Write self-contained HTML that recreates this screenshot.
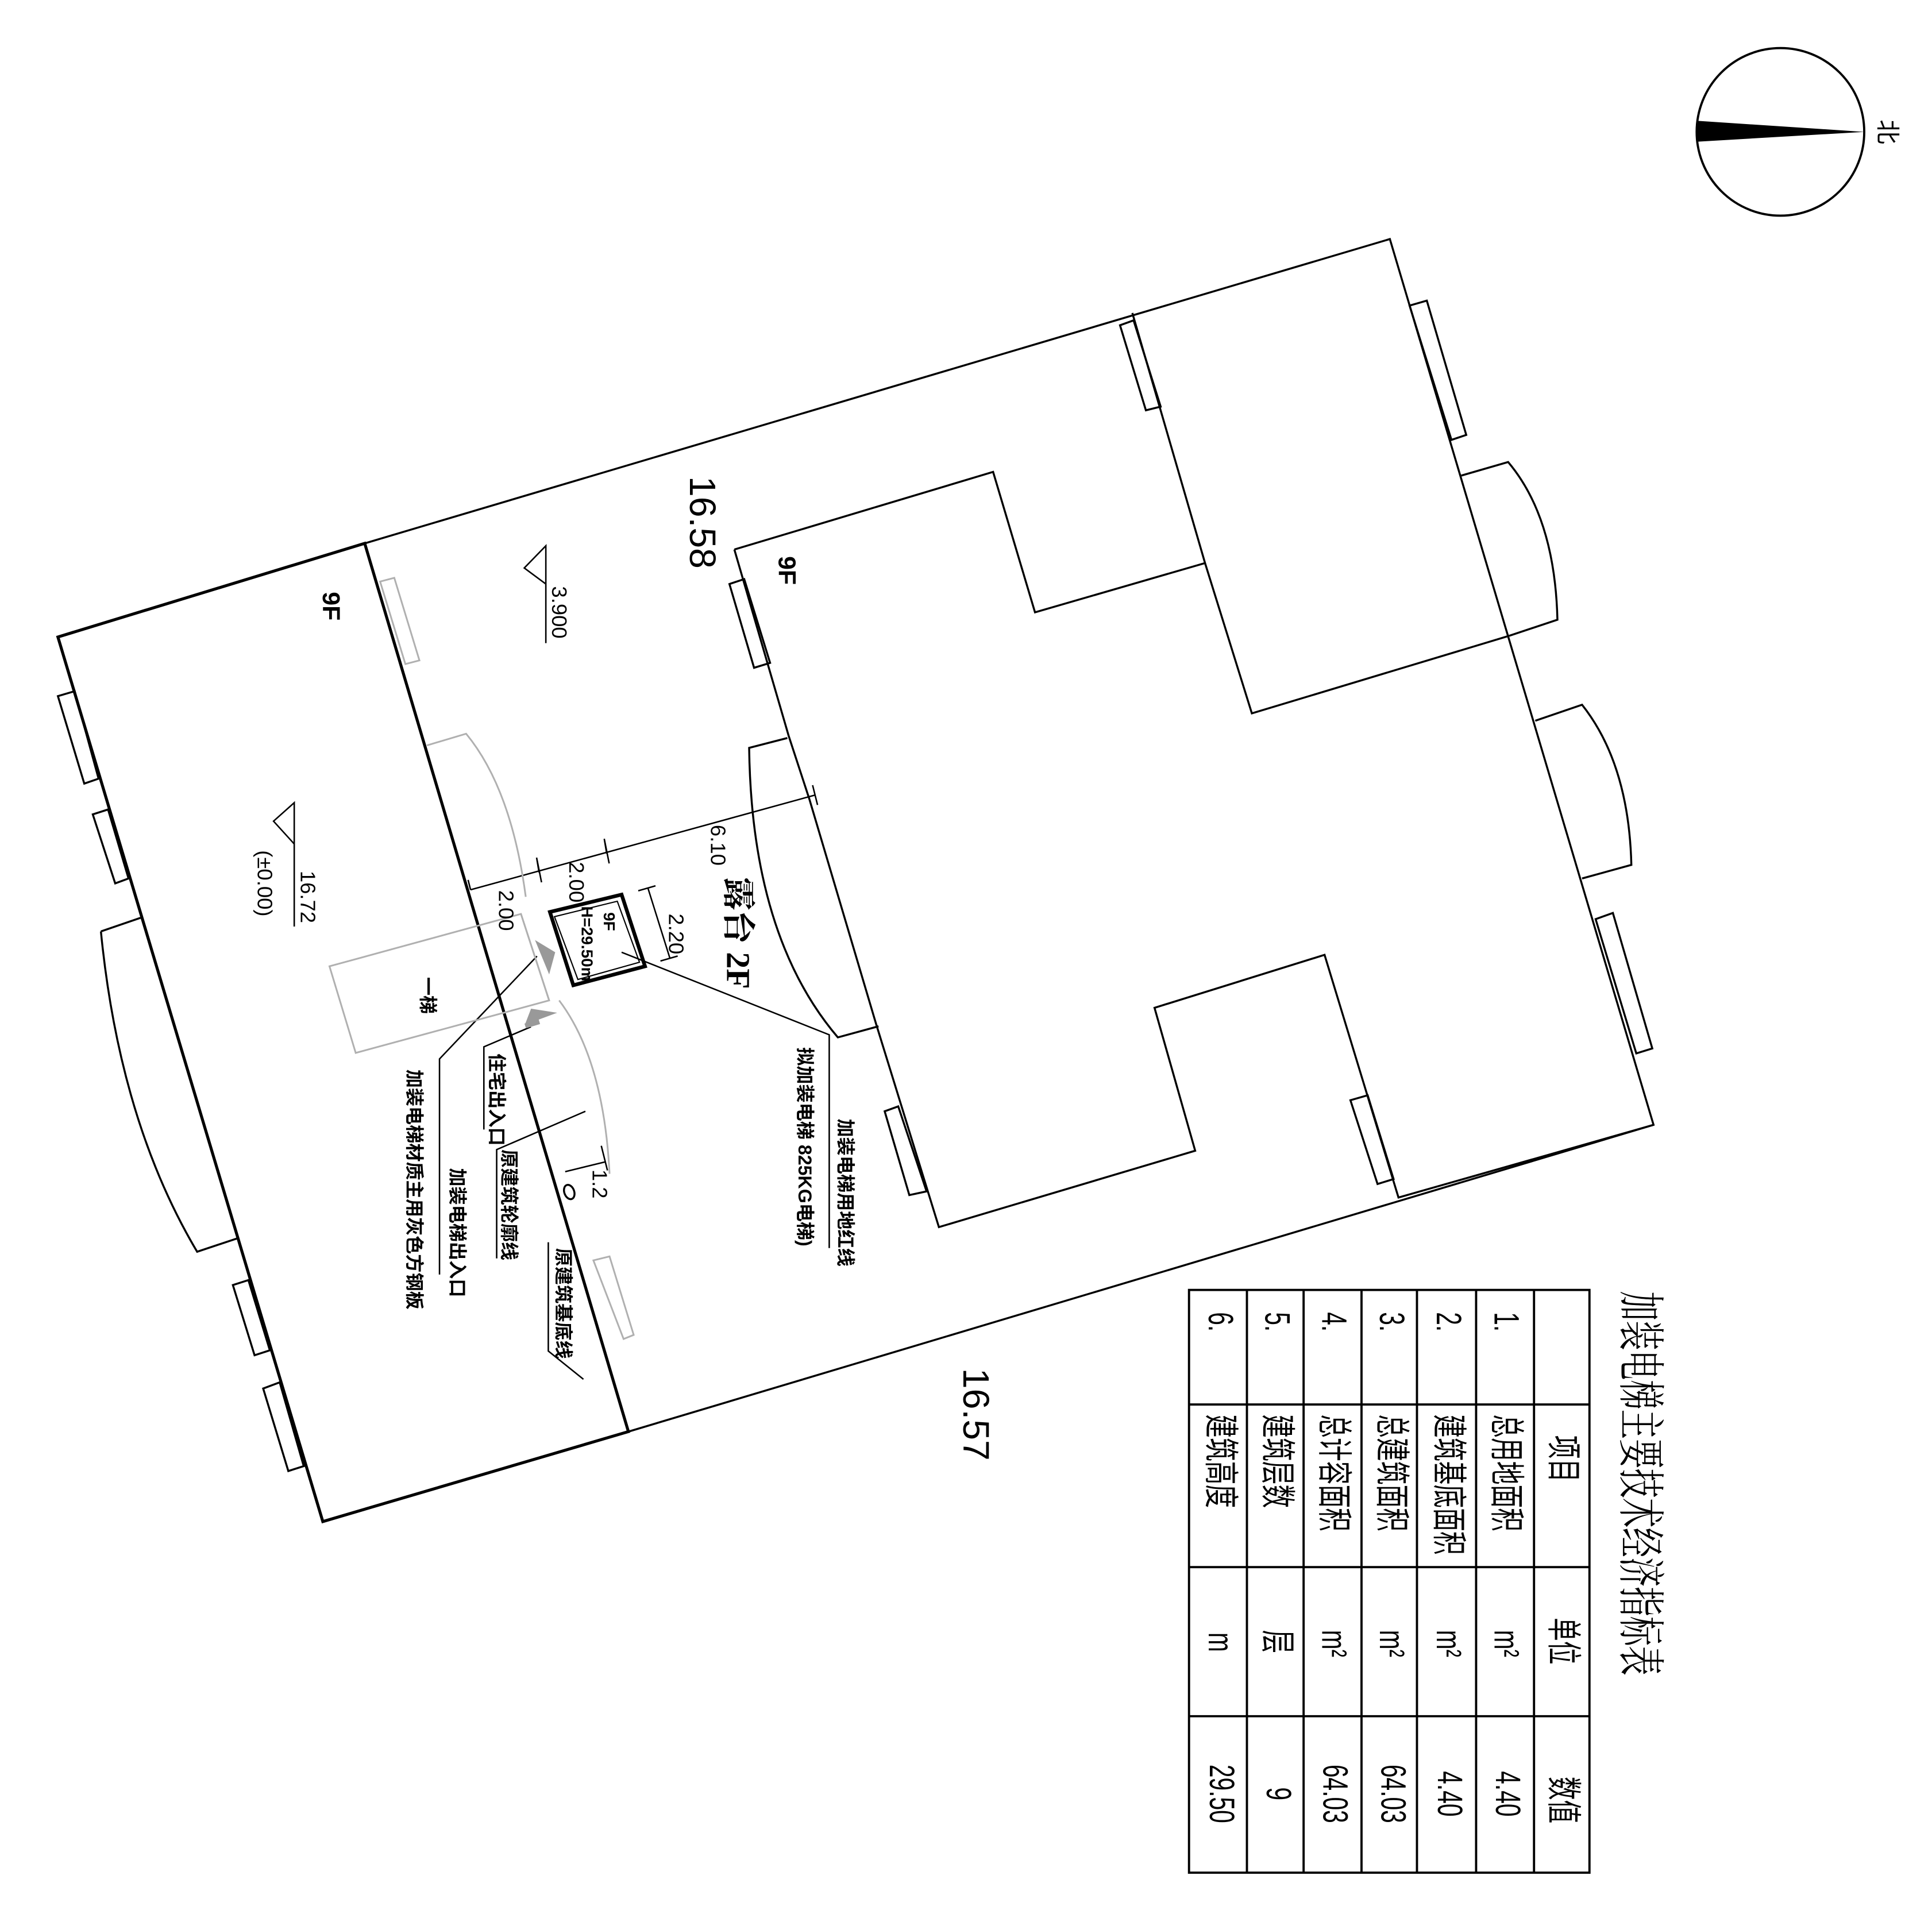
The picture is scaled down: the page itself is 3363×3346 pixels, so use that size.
<!DOCTYPE html>
<html><head><meta charset="utf-8"><style>
html,body{margin:0;padding:0;background:#fff;}
svg{display:block;}
text{font-family:"Liberation Sans","Noto Sans CJK SC",sans-serif;fill:#000;}
.cj{font-family:"Liberation Serif","Noto Serif CJK SC","Noto Sans CJK SC",serif;}
</style></head><body>
<svg width="3363" height="3346" viewBox="0 0 1568 1560" xmlns="http://www.w3.org/2000/svg">
<rect width="1568" height="1560" fill="#fff"/>
<g fill="none" stroke="#000" stroke-width="1.6" stroke-linejoin="miter">
<polyline points="296,441 1128,194 1342,913 510,1162"/>
<polygon points="47,517 296,441 510,1162 262,1235" stroke-width="2.4"/>
<polygon points="47,565 60.6,561 80,632 68.4,636"/>
<polygon points="75.3,661 87.7,657 104.3,713 93.5,717"/>
<path d="M81.9,756 L114,745 M81.9,756 Q97,910 160,1016 L193,1005"/>
<polygon points="189,1043 201.6,1039 219,1096 206.6,1100"/>
<polygon points="213.6,1127 227,1122 246.5,1190 234,1194"/>
<polyline points="596,446 806,383 840,497 978,457"/>
<polyline points="919,254 978,457 1016,579 1225,516"/>
<polyline points="596,446 640,597 657,649 711,831 762,996 970,934 937,818 1075,775 1135,972 1342,913"/>
<polygon points="909,264 920,260 942,330 930,333"/>
<polygon points="1144,248 1158,244 1190,353 1178,357"/>
<path d="M1186,386 L1224,375 Q1262,420 1264,503 L1225,516"/>
<path d="M1246,585 L1284,572 Q1322,620 1324,702 L1284,713"/>
<polygon points="1295,746 1309,741 1341,851 1328,855"/>
<polygon points="1096,893 1110,889 1131,957 1118,961"/>
<polygon points="718,902 729,898 752,967 738,970"/>
<polygon points="592,474 604,470 625,538 612,542"/>
<path d="M639,599 L608,607 Q610,760 680,842 L713,833"/>
<polyline points="381.9,722.2 661.5,645.3" stroke-width="1.2"/>
<path d="M381.9,722.2 l-2,-8 M437.5,708.1 l-2,-12 l4,20 M492.4,692.8 l-2,-12 l4,20 M661.5,645.3 l-2,-8 l4,16" stroke-width="1.2"/>
<polygon points="446.3,740.2 504.5,726.1 523.5,784.3 465.3,799.7" stroke-width="3"/>
<polygon points="450,744 501,731.5 519,781 469,795" stroke-width="1"/>
<path d="M525.8,720.6 L543.7,777.8 M518,723 l14,-4 M536,780 l14,-4" stroke-width="1.2"/>
<path d="M422.8,741.8 L445.7,812.1" stroke-width="1.2"/>
<path d="M458.7,951 L491.4,943 M488,930 l5,20" stroke-width="1.2"/>
<ellipse cx="462" cy="967.5" rx="4" ry="6" transform="rotate(-20 462 967.5)"/>
<polyline points="435.8,776.1 356.7,859.5 356.7,1034.5" stroke-width="1.2"/>
<polyline points="430.9,833.4 392.7,849.7 392.7,916.8" stroke-width="1.2"/>
<polyline points="475.1,902 403.1,933.1 403.1,1021.4" stroke-width="1.2"/>
<polyline points="473.5,1119.5 445,1096.6 445,1008.3" stroke-width="1.2"/>
<polyline points="504.5,772.9 673,839.9 673,1013" stroke-width="1.2"/>
<path d="M443,443 L443,522 M425.5,461 L443,443 L443,474 Z" stroke-width="1.2"/>
<path d="M238.8,651.5 L238.8,752 M222,666.5 L238.8,651.5 L238.8,685 Z" stroke-width="1.2"/>
</g>
<g fill="none" stroke="#b0b0b0" stroke-width="1.4">
<polygon points="308.5,472 320,469 340.4,536 329,539"/>
<path d="M346.5,605 L378.3,595.5 Q415,640 426.7,727.9"/>
<polygon points="267.4,784.3 422.8,741.8 445.7,812 288.7,854.6"/>
<path d="M453.8,812 Q490,860 494.7,952.7"/>
<polygon points="481.6,1023 494.7,1019.8 514.3,1083.5 506.1,1086.8"/>
</g>
<g fill="#999">
<polygon points="434.2,763 450.6,772.9 445.7,790.9"/>
<polygon points="431,818.7 452.2,822 426,831.7"/>
<rect x="426" y="829" width="12" height="4" transform="rotate(-17 432 831)"/>
</g>
<circle cx="1445" cy="107" r="68" fill="none" stroke="#000" stroke-width="1.8"/>
<polygon points="1377,98 1513,107 1377,115" fill="#000"/>
<text transform="translate(1525,107) rotate(90)" font-size="20" text-anchor="middle">北</text>
<g font-size="30">
<text transform="translate(560,424) rotate(90)" text-anchor="middle">16.58</text>
<text transform="translate(782,1148) rotate(90)" text-anchor="middle">16.57</text>
</g>
<g font-size="17">
<text transform="translate(448,497) rotate(90)" text-anchor="middle">3.900</text>
<text transform="translate(244,728) rotate(90)" text-anchor="middle">16.72</text>
<text transform="translate(209,717) rotate(90)" text-anchor="middle">(±0.00)</text>
<text transform="translate(577,686) rotate(90)" text-anchor="middle">6.10</text>
<text transform="translate(462,716) rotate(90)" text-anchor="middle">2.00</text>
<text transform="translate(405,739) rotate(90)" text-anchor="middle">2.00</text>
<text transform="translate(543,758) rotate(90)" text-anchor="middle">2.20</text>
<text transform="translate(481,961) rotate(90)" text-anchor="middle">1.2</text>
</g>
<g font-size="20" font-weight="bold">
<text transform="translate(632,463) rotate(90)" text-anchor="middle">9F</text>
<text transform="translate(262,492) rotate(90)" text-anchor="middle">9F</text>
</g>
<g font-size="13" font-weight="bold">
<text transform="translate(490,748) rotate(90)" text-anchor="middle">9F</text>
<text transform="translate(472,766) rotate(90)" text-anchor="middle">H=29.50m</text>
</g>
<text class="cj" transform="translate(590,712) rotate(90)" font-size="27" font-weight="bold">露台 2F</text>
<g class="cj" font-size="15" font-weight="bold">
<text transform="translate(342,808) rotate(90)" text-anchor="middle">一梯</text>
<text transform="translate(331,868) rotate(90)">加装电梯材质主用灰色方钢板</text>
<text transform="translate(366,948) rotate(90)">加装电梯出入口</text>
<text transform="translate(398,855) rotate(90)">住宅出入口</text>
<text transform="translate(408,933) rotate(90)">原建筑轮廓线</text>
<text transform="translate(452,1013) rotate(90)">原建筑基底线</text>
<text transform="translate(648,850) rotate(90)">拟加装电梯 825KG电梯)</text>
<text transform="translate(681,908) rotate(90)">加装电梯用地红线</text>
</g>
<g fill="none" stroke="#000" stroke-width="1.8">
<rect x="965" y="1047" width="325" height="473"/>
<path d="M1012,1047V1520 M1058,1047V1520 M1105,1047V1520 M1150,1047V1520 M1198,1047V1520 M1245,1047V1520"/>
<path d="M965,1140H1290 M965,1272H1290 M965,1393H1290"/>
</g>
<text class="cj" transform="translate(1318,1048) rotate(90) scale(1,1.6)" font-size="24">加装电梯主要技术经济指标表</text>
<g class="cj" font-size="19">
<text transform="translate(1259,1165) rotate(90) scale(1,1.5)">项目</text>
<text transform="translate(1259,1313) rotate(90) scale(1,1.5)">单位</text>
<text transform="translate(1259,1442) rotate(90) scale(1,1.5)">数值</text>
<text transform="translate(1213,1065) rotate(90) scale(1,1.5)">1.</text>
<text transform="translate(1166,1065) rotate(90) scale(1,1.5)">2.</text>
<text transform="translate(1120,1065) rotate(90) scale(1,1.5)">3.</text>
<text transform="translate(1073,1065) rotate(90) scale(1,1.5)">4.</text>
<text transform="translate(1027,1065) rotate(90) scale(1,1.5)">5.</text>
<text transform="translate(981,1065) rotate(90) scale(1,1.5)">6.</text>
<text transform="translate(1213,1148) rotate(90) scale(1,1.5)">总用地面积</text>
<text transform="translate(1166,1148) rotate(90) scale(1,1.5)">建筑基底面积</text>
<text transform="translate(1120,1148) rotate(90) scale(1,1.5)">总建筑面积</text>
<text transform="translate(1073,1148) rotate(90) scale(1,1.5)">总计容面积</text>
<text transform="translate(1027,1148) rotate(90) scale(1,1.5)">建筑层数</text>
<text transform="translate(981,1148) rotate(90) scale(1,1.5)">建筑高度</text>
<text transform="translate(1213,1323) rotate(90) scale(1,1.5)">m²</text>
<text transform="translate(1166,1323) rotate(90) scale(1,1.5)">m²</text>
<text transform="translate(1120,1323) rotate(90) scale(1,1.5)">m²</text>
<text transform="translate(1073,1323) rotate(90) scale(1,1.5)">m²</text>
<text transform="translate(1027,1323) rotate(90) scale(1,1.5)">层</text>
<text transform="translate(981,1325) rotate(90) scale(1,1.5)">m</text>
</g>
<g font-size="19" font-family="Liberation Mono" text-anchor="middle">
<text transform="translate(1214,1456) rotate(90) scale(1,1.5)">4.40</text>
<text transform="translate(1167,1456) rotate(90) scale(1,1.5)">4.40</text>
<text transform="translate(1121,1456) rotate(90) scale(1,1.5)">64.03</text>
<text transform="translate(1074,1456) rotate(90) scale(1,1.5)">64.03</text>
<text transform="translate(1028,1456) rotate(90) scale(1,1.5)">9</text>
<text transform="translate(982,1456) rotate(90) scale(1,1.5)">29.50</text>
</g>
</svg>
</body></html>
